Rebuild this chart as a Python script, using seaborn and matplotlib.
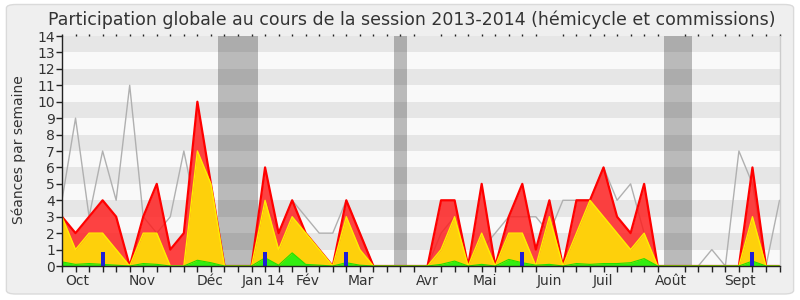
import matplotlib
matplotlib.use("Agg")
import matplotlib.pyplot as plt
import seaborn as sns
import pandas as pd
from matplotlib.patches import FancyBboxPatch
from matplotlib.ticker import MultipleLocator, FixedLocator

# ---- data (one value per week, session 2013-2014) ----
weeks = list(range(54))
presence_totale = [3, 2, 3, 4, 3, 0, 3, 5, 1, 2, 10, 5, 0, 0, 0, 6, 2, 4, 2, 1, 0, 4, 2, 0, 0, 0, 0, 0,
                   4, 4, 0, 5, 0, 3, 5, 1, 4, 0, 4, 4, 6, 3, 2, 5, 0, 0, 0, 0, 0, 0, 0, 6, 0, 0]
presence_commissions = [3, 1, 2, 2, 1, 0, 2, 2, 0, 0, 7, 5, 0, 0, 0, 4, 1, 3, 2, 1, 0, 3, 1, 0, 0, 0, 0, 0,
                        1, 3, 0, 2, 0, 2, 2, 0, 3, 0, 2, 4, 3, 2, 1, 2, 0, 0, 0, 0, 0, 0, 0, 3, 0, 0]
presence_hemicycle = [0.25, 0.1, 0.15, 0.1, 0.05, 0, 0.15, 0.1, 0, 0, 0.35, 0.2, 0, 0, 0, 0.5, 0.05, 0.8,
                      0.1, 0.05, 0, 0.2, 0.05, 0, 0, 0, 0, 0, 0.1, 0.3, 0, 0.1, 0, 0.4, 0.2, 0.05, 0.1,
                      0, 0.15, 0.1, 0.15, 0.15, 0.2, 0.45, 0, 0, 0, 0, 0, 0, 0, 0.3, 0, 0]
mediane_deputes = [4, 9, 3, 7, 4, 11, 3, 2, 3, 7, 3, 2, 0, 0, 0, 4, 2, 4, 3, 2, 2, 4, 2, 0, 0, 0, 0, 0,
                   2, 3, 0, 1, 2, 3, 3, 3, 2, 4, 4, 4, 6, 4, 5, 2, 0, 0, 0, 0, 1, 0, 7, 5, 0, 4]
interventions_weeks = [3, 15, 21, 34, 51]
interventions_vals = [0.87, 0.87, 0.87, 0.87, 0.87]
vacances = [(11.5, 14.5), (24.5, 25.5), (44.5, 46.5)]
mois_labels = ["Oct", "Nov", "Déc", "Jan 14", "Fév", "Mar", "Avr", "Mai", "Juin", "Juil", "Août", "Sept"]
mois_pos = [1.1, 5.95, 10.95, 14.9, 18.15, 22.1, 27.0, 31.2, 36.0, 39.95, 45.0, 50.05]
titre = "Participation globale au cours de la session 2013-2014 (hémicycle et commissions)"

df = pd.DataFrame({"semaine": weeks, "total": presence_totale, "comm": presence_commissions,
                   "hemi": presence_hemicycle, "med": mediane_deputes})

sns.set_theme(style="white")
plt.rcParams['font.family'] = ['DejaVu Sans']

fig = plt.figure(figsize=(8, 3), dpi=100, facecolor="white")
fig.patches.append(FancyBboxPatch((0.008, 0.02), 0.984, 0.965,
                                  boxstyle="round,pad=0,rounding_size=0.012",
                                  transform=fig.transFigure, facecolor="#efefef",
                                  edgecolor="#dadada", lw=1, zorder=-10))
ax = fig.add_axes([0.0775, 0.1133, 0.8969, 0.7667])
ax.set_facecolor("#f9f9f9")

for k in range(14):
    ax.axhspan(k, k + 1, color="#e6e6e6" if k % 2 == 1 else "#f9f9f9", lw=0, zorder=0)
for a, b in vacances:
    ax.axvspan(a, b, color="black", alpha=0.25, lw=0, zorder=1)

sns.lineplot(data=df, x="semaine", y="med", color="#b0b0b0", lw=1, ax=ax, zorder=2)

ax.fill_between(df["semaine"], df["total"], color="#ff1a1a", alpha=0.82, lw=0, zorder=3)
sns.lineplot(data=df, x="semaine", y="total", color="#ff0000", lw=1.6, ax=ax, zorder=4)
ax.fill_between(df["semaine"], df["comm"], color="#ffd60a", alpha=0.97, lw=0, zorder=5)
sns.lineplot(data=df, x="semaine", y="comm", color="#ffee00", lw=1.0, ax=ax, zorder=6)
ax.fill_between(df["semaine"], df["hemi"], color="#33ee11", lw=0, zorder=7)
sns.lineplot(data=df, x="semaine", y="hemi", color="#22e000", lw=0.8, ax=ax, zorder=8)
ax.bar(interventions_weeks, interventions_vals, width=0.3, color="#1f1fd6", lw=0, zorder=9)

ax.set_xlim(0, 53)
ax.set_ylim(0, 14)
ax.set_xlabel("")
ax.set_ylabel("")
ax.yaxis.set_major_locator(MultipleLocator(1))
ax.xaxis.set_major_locator(FixedLocator(mois_pos))
ax.set_xticklabels(mois_labels)
ax.xaxis.set_minor_locator(MultipleLocator(1))
ax.tick_params(axis="x", which="major", length=0, pad=6, labelsize=10, labelcolor="#333333")
ax.tick_params(axis="x", which="minor", bottom=True, top=True, length=4, width=1, color="#222222",
               direction="out")
ax.tick_params(axis="y", which="major", left=True, length=4, width=1, color="#222222", pad=1,
               labelsize=10, labelcolor="#333333")
for lab in ax.get_yticklabels():
    lab.set_fontsize(10)

for side in ["top"]:
    ax.spines[side].set_visible(False)
ax.spines["left"].set_color("#222222")
ax.spines["bottom"].set_color("#222222")
ax.spines["right"].set_color("#cccccc")
for s in ax.spines.values():
    s.set_linewidth(1)
    s.set_zorder(10)

# small dots at the top for each week
ax.tick_params(axis="x", which="minor", top=True)
for t in ax.xaxis.get_minor_ticks():
    t.tick2line.set_markersize(1.5)

fig.text(0.515, 0.935, titre, ha="center", va="center", fontsize=12.5, color="#333333")
fig.text(0.023, 0.50, "Séances par semaine", rotation=90, ha="center", va="center",
         fontsize=10, color="#333333")

fig.savefig("out.png", dpi=100, facecolor="white")
